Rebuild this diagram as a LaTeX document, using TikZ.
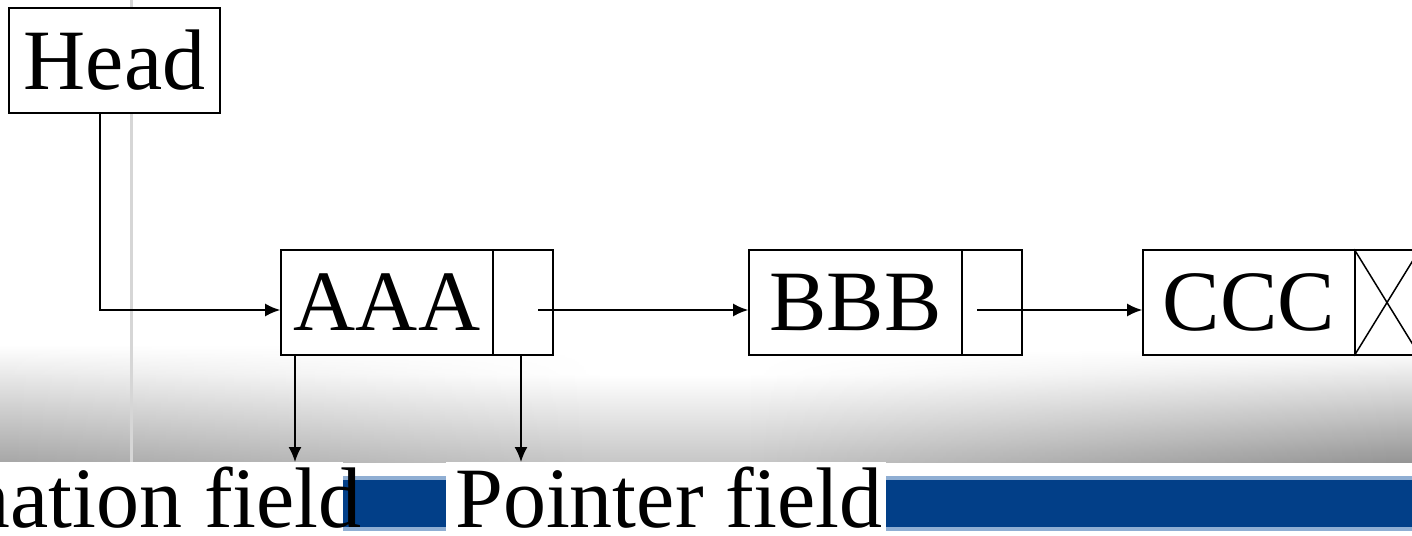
\documentclass[tikz,border=0pt]{standalone}
\usepackage{fontspec}
\setmainfont{Liberation Serif}
\usetikzlibrary{arrows.meta,fadings}
\definecolor{bandblue}{HTML}{023F88}
\definecolor{bandlight}{HTML}{8FAED3}
\definecolor{shadegray}{HTML}{C6C6C6}
\definecolor{edgegrayL}{HTML}{A6A6A6}
\definecolor{edgegrayR}{HTML}{949494}
\definecolor{vline}{HTML}{D6D6D6}
\tikzfading[name=fadeR, left color=transparent!0, right color=transparent!100]
\tikzfading[name=fadeL, left color=transparent!100, right color=transparent!0]
\tikzset{
  cell/.style={draw=black, fill=white, line width=1.7pt, inner sep=0pt, minimum height=105pt},
  big/.style={font=\fontsize{86}{100}\selectfont},
  arr/.style={line width=1.7pt, -{Latex[length=15pt,width=13pt]}},
  lab/.style={fill=white, inner sep=0pt, minimum height=73pt, anchor=north west}
}
\begin{document}
\begin{tikzpicture}[x=1pt,y=-1pt]
\useasboundingbox (0,0) rectangle (1412,535);
% background
\shade[top color=white, bottom color=shadegray] (0,375) rectangle (1412,463);
\shade[top color=white, bottom color=edgegrayL, path fading=fadeR] (0,345) rectangle (600,463);
\shade[top color=white, bottom color=edgegrayR, path fading=fadeL] (750,350) rectangle (1412,463);
\fill[white] (0,463) rectangle (1412,535);
\fill[bandlight] (0,476) rectangle (1412,531);
\fill[bandblue] (0,480) rectangle (1412,527);
\draw[vline, line width=3pt] (131,0) -- (131,462);
% nodes
\node[cell, big, minimum width=211pt] (head) at (114.5,60.5) {Head};
\node[cell, big, minimum width=212pt] (aaa) at (387,302.5) {AAA};
\node[cell, minimum width=60pt] (ap) at (523,302.5) {};
\node[cell, big, minimum width=213pt] (bbb) at (855.5,302.5) {BBB};
\node[cell, minimum width=60pt] (bp) at (992,302.5) {};
\node[cell, big, minimum width=212pt] (ccc) at (1249,302.5) {CCC};
\node[cell, minimum width=64pt] (cp) at (1387,302.5) {};
\draw[line width=1.5pt] (cp.north west) -- (cp.south east) (cp.south west) -- (cp.north east);
% labels
\node[lab, minimum width=440pt] (pf) at (446,462) {};
\node[big, anchor=base west, inner sep=0pt] (pftext) at (455,527) {Pointer field};
\node[lab, minimum width=353pt] (ifbox) at (-10,462) {};
\node[big, anchor=base east, inner sep=0pt] (iftext) at (362,527) {Information field};
% connectors
\coordinate (hturn) at (100,310);
\draw[arr] (head.south -| hturn) -- (hturn) -- (aaa.west |- hturn);
\coordinate (as) at (538,310);
\draw[arr] (as) -- (bbb.west |- as);
\coordinate (bs) at (977,310);
\draw[arr] (bs) -- (ccc.west |- bs);
\coordinate (ad) at (295,355);
\draw[arr] (aaa.south -| ad) -- (ifbox.north -| ad);
\coordinate (pd) at (521,355);
\draw[arr] (ap.south -| pd) -- (pf.north -| pd);
\end{tikzpicture}
\end{document}
